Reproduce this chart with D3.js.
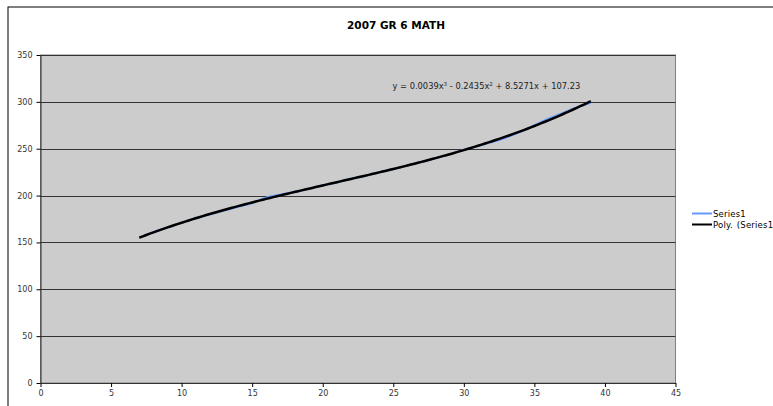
<!DOCTYPE html>
<html><head><meta charset="utf-8">
<script src="https://cdn.jsdelivr.net/npm/d3@7"></script>
<style>body{margin:0;background:#fff;}svg{display:block;font-family:Verdana,"DejaVu Sans",sans-serif;}</style>
</head><body><svg id="c" width="773" height="406"></svg>
<script>
const title = "2007 GR 6 MATH";
const xValues = [7,8,9,10,11,12,13,14,15,16,17,18,19,20,21,22,23,24,25,26,27,28,29,30,31,32,33,34,35,36,37,38,39];
const series1 = [155,161,166,171,176,180,184,188,192,198,201,204,207,211,214,218,221,225,228,232,236,240,244,249,253,257,262,268,275,282,288,294,299];
const xTicks = [0,5,10,15,20,25,30,35,40,45];
const yTicks = [0,50,100,150,200,250,300,350];
const legendLabels = ["Series1","Poly. (Series1)"];
const trendLabelParts = [["y = 0.0039x",""],["3","sup"],[" - 0.2435x",""],["2","sup"],[" + 8.5271x + 107.23",""]];

const svg = d3.select("#c");
const L=40.5, R=675.5, T=55, B=383;
const x = d3.scaleLinear().domain([0,45]).range([L,R]);
const y = d3.scaleLinear().domain([0,350]).range([B,T]);

svg.append("rect").attr("x",8).attr("y",7).attr("width",780).attr("height",420)
  .attr("fill","#fff").attr("stroke","#000").attr("stroke-width",1);
svg.append("rect").attr("x",L).attr("y",T).attr("width",R-L).attr("height",B-T)
  .attr("fill","#cccccc").attr("stroke","#808080").attr("stroke-width",1);
svg.append("g").selectAll("line").data(yTicks.filter(d=>d>0)).join("line")
  .attr("x1",L).attr("x2",R).attr("y1",d=>Math.round(y(d))+0.5).attr("y2",d=>Math.round(y(d))+0.5)
  .attr("stroke","#333").attr("stroke-width",1);

const xa = svg.append("g").attr("transform",`translate(0,${B})`)
  .call(d3.axisBottom(x).tickValues(xTicks).tickSize(4).tickSizeOuter(0).tickPadding(3));
const ya = svg.append("g").attr("transform",`translate(${L},0)`)
  .call(d3.axisLeft(y).tickValues(yTicks).tickSize(4).tickSizeOuter(0).tickPadding(4));
[xa,ya].forEach(a=>{
  a.select(".domain").attr("stroke","#333");
  a.selectAll(".tick line").attr("stroke","#000");
  a.selectAll("text").attr("fill","#333").style("font-size","8px").style("font-family","Verdana,'DejaVu Sans',sans-serif");
});

function polyfit(xs, ys, deg){
  const n=deg+1, A=[...Array(n)].map(()=>Array(n+1).fill(0));
  for(let i=0;i<xs.length;i++){
    for(let r=0;r<n;r++){
      for(let c=0;c<n;c++) A[r][c]+=Math.pow(xs[i],r+c);
      A[r][n]+=ys[i]*Math.pow(xs[i],r);
    }
  }
  for(let i=0;i<n;i++){
    let p=i; for(let k=i+1;k<n;k++) if(Math.abs(A[k][i])>Math.abs(A[p][i])) p=k;
    [A[i],A[p]]=[A[p],A[i]];
    for(let k=i+1;k<n;k++){const f=A[k][i]/A[i][i]; for(let c=i;c<=n;c++) A[k][c]-=f*A[i][c];}
  }
  const s=Array(n).fill(0);
  for(let i=n-1;i>=0;i--){let v=A[i][n]; for(let c=i+1;c<n;c++) v-=A[i][c]*s[c]; s[i]=v/A[i][i];}
  return s;
}
const coefs = polyfit(xValues, series1, 3);
const trendPts = d3.range(xValues[0], xValues[xValues.length-1]+0.001, 0.25)
  .map(v=>[v, coefs.reduce((a,c,i)=>a+c*Math.pow(v,i),0)]);

const data = xValues.map((v,i)=>[v,series1[i]]);
const line = d3.line().x(d=>x(d[0])).y(d=>y(d[1])).curve(d3.curveMonotoneX);
svg.append("path").datum(data).attr("d",line).attr("fill","none")
  .attr("stroke","#6699ff").attr("stroke-width",2);
svg.append("path").datum(trendPts).attr("d",d3.line().x(d=>x(d[0])).y(d=>y(d[1]))).attr("fill","none")
  .attr("stroke","#000").attr("stroke-width",2.5);

const tl = svg.append("text").attr("x",x(31.6)).attr("y",y(314)).attr("text-anchor","middle")
  .attr("fill","#222").style("font-size","8.3px");
trendLabelParts.forEach(([t,k])=>{
  const s = tl.append("tspan").text(t);
  if(k==="sup") s.attr("dy",-3).style("font-size","5.5px");
  else if(tl.selectAll("tspan").size()>1) s.attr("dy",3);
});

svg.append("text").attr("x",396).attr("y",29).attr("text-anchor","middle")
  .style("font-size","10.5px").style("font-weight","bold").attr("fill","#000").text(title);

const lg = svg.append("g");
const lc = ["#6699ff","#000"];
legendLabels.forEach((t,i)=>{
  const yy = 213 + i*11;
  lg.append("line").attr("x1",692).attr("x2",712).attr("y1",yy+0.5).attr("y2",yy+0.5)
    .attr("stroke",lc[i]).attr("stroke-width",2);
  lg.append("text").attr("x",713).attr("y",yy+3.5).style("font-size","8.5px")
    .style("letter-spacing","0.2px").style("word-spacing","1px").attr("fill","#000").text(t);
});
</script></body></html>
